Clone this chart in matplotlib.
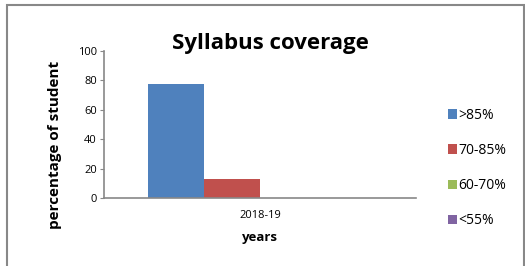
import matplotlib
matplotlib.use("Agg")
import matplotlib.pyplot as plt
import numpy as np
from matplotlib.patches import Rectangle

categories = ["2018-19"]
series_names = [">85%", "70-85%", "60-70%", "<55%"]
series_values = [[77.5], [13], [0], [0]]
colors = ["#4F81BD", "#C0504D", "#9BBB59", "#8064A2"]
yticks = [0, 20, 40, 60, 80, 100]

plt.rcParams['font.family'] = ['Open Sans', 'DejaVu Sans']

fig = plt.figure(figsize=(5.25, 2.66), dpi=100)
fig.patches.append(Rectangle((0.013, -0.01), 0.985, 0.99, transform=fig.transFigure,
                             fill=False, edgecolor="#888888", linewidth=1.5))
ax = fig.add_axes([104/525, 1-198/266, (416-104)/525, (198-51)/266])

x = np.arange(len(categories))
w = 0.18
for i, (name, vals) in enumerate(zip(series_names, series_values)):
    ax.bar(x + (i - 1.5) * w, vals, width=w, color=colors[i], label=name)

ax.set_xlim(-0.5, 0.5)
ax.set_ylim(0, 100)
ax.set_yticks(yticks)
ax.set_xticks(x)
ax.set_xticklabels(categories)
ax.tick_params(axis='y', labelsize=8, length=3, color="#888888", pad=2)
ax.tick_params(axis='x', labelsize=8, length=0, pad=9)
for s in ["top", "right"]:
    ax.spines[s].set_visible(False)
for s in ["left", "bottom"]:
    ax.spines[s].set_color("#888888")
    ax.spines[s].set_linewidth(1.2)

fig.text(55/525, 1-145/266, "percentage of student", fontsize=11, fontweight="bold",
         rotation=90, ha="center", va="center")
ax.set_xlabel("years", fontsize=9.5, fontweight="bold", labelpad=7)
fig.text(270/525, 1-43/266, "Syllabus coverage", fontsize=16, fontweight="bold",
         ha="center", va="center")

leg = fig.legend(loc="center left", bbox_to_anchor=(435/525, 1-168/266), frameon=False,
                 fontsize=10, handlelength=0.65, handleheight=0.65, handletextpad=0.15,
                 labelspacing=1.45)

fig.savefig("out.png", dpi=100)
